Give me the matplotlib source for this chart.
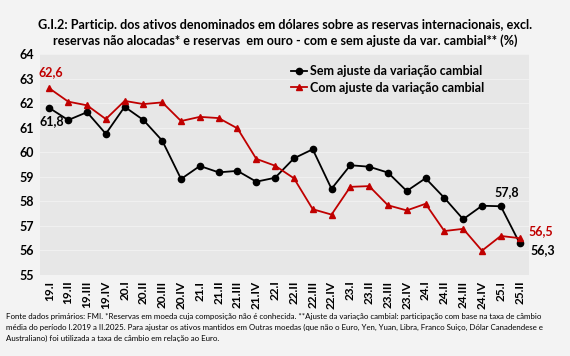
import numpy as np
import matplotlib
matplotlib.use('Agg')
import matplotlib.pyplot as plt

plt.rcParams['font.family'] = ['Lato', 'DejaVu Sans']

# Quarters from 19.I to 25.II
quarters = ['19.I', '19.II', '19.III', '19.IV', '20.I', '20.II', '20.III', '20.IV',
            '21.I', '21.II', '21.III', '21.IV', '22.I', '22.II', '22.III', '22.IV',
            '23.I', '23.II', '23.III', '23.IV', '24.I', '24.II', '24.III', '24.IV',
            '25.I', '25.II']

# Sem ajuste da variação cambial
sem_ajuste = [61.8, 61.31, 61.63, 60.75, 61.85, 61.31, 60.47, 58.91,
              59.44, 59.18, 59.24, 58.80, 58.96, 59.75, 60.12, 58.51,
              59.47, 59.41, 59.17, 58.42, 58.94, 58.14, 57.27, 57.82,
              57.8, 56.3]

# Com ajuste da variação cambial
com_ajuste = [62.6, 62.06, 61.91, 61.35, 62.09, 61.96, 62.03, 61.27,
              61.44, 61.39, 60.97, 59.73, 59.45, 58.94, 57.68, 57.46,
              58.59, 58.62, 57.84, 57.63, 57.90, 56.79, 56.88, 55.99,
              56.59, 56.5]

red = '#c00000'
x = np.arange(len(quarters))

fig = plt.figure(figsize=(5.7, 3.56), dpi=100, facecolor='#f3f3f3')
ax = fig.add_axes([40/570, 1 - 275/356, 489/570, 221/356])
ax.set_facecolor('#e7e7e7')

# Horizontal gridlines only
ax.yaxis.grid(True, color='#f0f0f0', linewidth=0.8)
ax.set_axisbelow(True)

ax.plot(x, sem_ajuste, color='black', marker='o', markersize=4.5, linewidth=1.3,
        label='Sem ajuste da variação cambial')
ax.plot(x, com_ajuste, color=red, marker='^', markersize=4.5, linewidth=1.3,
        label='Com ajuste da variação cambial')

ax.set_xlim(-0.5, len(quarters) - 0.5)
ax.set_ylim(55, 64)
ax.set_yticks(range(55, 65))
ax.set_xticks(x)
ax.set_xticklabels(quarters, rotation=90, fontsize=8.5, fontweight='bold')
for lbl in ax.get_yticklabels():
    lbl.set_fontsize(9)
    lbl.set_fontweight('bold')
ax.tick_params(length=0, pad=4)
for s in ax.spines.values():
    s.set_visible(False)

# Data labels
def fmt(v):
    return f'{v:.1f}'.replace('.', ',')

lbl_kw = dict(fontsize=9, fontweight='bold')
ax.annotate(fmt(com_ajuste[0]), (x[0], com_ajuste[0]), xytext=(1, 9),
            textcoords='offset points', ha='center', color=red, **lbl_kw)
ax.annotate(fmt(sem_ajuste[0]), (x[0], sem_ajuste[0]), xytext=(2, -12),
            textcoords='offset points', ha='center', color='black', **lbl_kw)
ax.annotate(fmt(sem_ajuste[-2]), (x[-2], sem_ajuste[-2]), xytext=(4, 7),
            textcoords='offset points', ha='center', color='black', **lbl_kw)
ax.annotate(fmt(com_ajuste[-1]), (x[-1], com_ajuste[-1]), xytext=(15, 2),
            textcoords='offset points', ha='center', color=red, **lbl_kw)
ax.annotate(fmt(sem_ajuste[-1]), (x[-1], sem_ajuste[-1]), xytext=(17, -8),
            textcoords='offset points', ha='center', color='black', **lbl_kw)

ax.legend(loc='upper left', bbox_to_anchor=(0.49, 1.0), frameon=False,
          prop={'size': 9, 'weight': 'bold'}, handlelength=1.3,
          handletextpad=0.2, labelspacing=0.35, borderaxespad=0.5)

fig.text(0.5, 0.948, 'G.I.2: Particip. dos ativos denominados em dólares sobre as reservas '
         'internacionais, excl.\nreservas não alocadas* e reservas  em ouro - com e sem '
         'ajuste da var. cambial** (%)', ha='center', va='top', fontsize=9.1,
         fontweight='bold', linespacing=1.4)

fig.text(0.01, 0.12, 'Fonte dados primários: FMI. *Reservas em moeda cuja composição não é '
         'conhecida. **Ajuste da variação cambial: participação com base na taxa de câmbio\n'
         'média do período I.2019 a II.2025. Para ajustar os ativos mantidos em Outras moedas '
         '(que não o Euro, Yen, Yuan, Libra, Franco Suiço, Dólar Canadendese e\n'
         'Australiano) foi utilizada a taxa de câmbio em relação ao Euro.',
         ha='left', va='top', fontsize=5.7, linespacing=1.6)

fig.savefig('out.png', dpi=100, facecolor=fig.get_facecolor())
